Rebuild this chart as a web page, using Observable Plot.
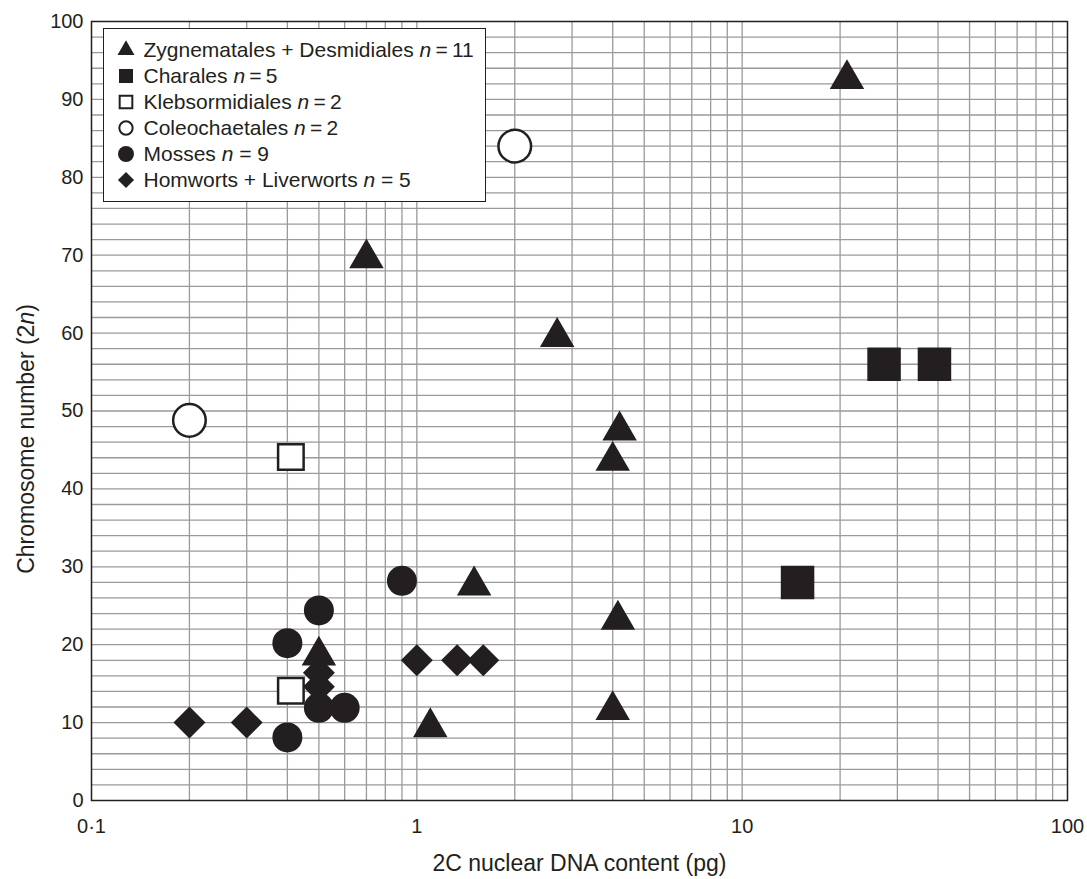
<!DOCTYPE html>
<html>
<head>
<meta charset="utf-8">
<script src="https://cdn.jsdelivr.net/npm/d3@7"></script>
<script src="https://cdn.jsdelivr.net/npm/@observablehq/plot@0.6"></script>
<style>
  html, body { margin: 0; padding: 0; background: #fff; }
  #wrap { position: relative; width: 1087px; height: 879px; font-family: "Liberation Sans", Arial, Helvetica, sans-serif; color: #231f20; }
  #legend { position: absolute; left: 103px; top: 28px; width: 383px; height: 174px; box-sizing: border-box;
            border: 1.5px solid #231f20; background: #fff; padding-top: 7.5px; }
  .row { height: 26px; display: flex; align-items: center; font-size: 21px; white-space: nowrap; }
  .row svg { margin-left: 11.5px; margin-right: 8px; flex: none; }
</style>
</head>
<body>
<div id="wrap">
  <div id="chart"></div>
  <div id="legend"></div>
</div>
<script>
// ---- Data ----
const zygX = [21, 0.7, 2.7, 4.2, 4.0, 1.5, 4.15, 0.5, 4.0, 1.1];
const zygY = [92.6, 69.6, 59.5, 47.5, 43.6, 27.6, 23.2, 18.6, 11.6, 9.4];
const charX = [27.3, 39, 14.8];
const charY = [56, 56, 28];
const klebX = [0.41, 0.41];
const klebY = [44.1, 14.1];
const coleoX = [2.0, 0.2];
const coleoY = [84, 48.8];
const mossX = [0.4, 0.4, 0.5, 0.5, 0.6, 0.9];
const mossY = [8.1, 20.2, 24.4, 11.9, 11.9, 28.2];
const hornX = [0.2, 0.3, 1.0, 1.33, 1.6, 0.5, 0.5];
const hornY = [10, 10, 18, 18, 18, 16.4, 14.6];

const xTicks = [0.1, 1, 10, 100];
const xTickLabels = ["0·1", "1", "10", "100"];
const yTicks = [0, 10, 20, 30, 40, 50, 60, 70, 80, 90, 100];
const xGrid = [0.2,0.3,0.4,0.5,0.6,0.7,0.8,0.9,1,2,3,4,5,6,7,8,9,10,20,30,40,50,60,70,80,90];
const yGrid = d3.range(2, 100, 2);

const legendLabels = [
  ["Zygnematales + Desmidiales ", "n", "\u2009=\u200911"],
  ["Charales ", "n", "\u2009=\u20095"],
  ["Klebsormidiales ", "n", "\u2009=\u20092"],
  ["Coleochaetales ", "n", "\u2009=\u20092"],
  ["Mosses ", "n", " = 9"],
  ["Homworts + Liverworts ", "n", " = 5"]
];

const ink = "#231f20";
const pts = (xs, ys) => xs.map((x, i) => ({x, y: ys[i]}));

const chart = Plot.plot({
  width: 1087,
  height: 879,
  marginLeft: 91,
  marginRight: 20,
  marginTop: 21,
  marginBottom: 79,
  style: {fontFamily: "'Liberation Sans', Arial, Helvetica, sans-serif", color: ink, background: "#fff", overflow: "visible"},
  x: {type: "log", domain: [0.1, 100]},
  y: {domain: [0, 100]},
  marks: [
    Plot.gridX({ticks: xGrid, stroke: "#9a9a9a", strokeOpacity: 1, strokeWidth: 1.3}),
    Plot.gridY({ticks: yGrid, stroke: "#9a9a9a", strokeOpacity: 1, strokeWidth: 1.3}),
    Plot.frame({stroke: ink, strokeWidth: 1.5}),
    Plot.axisX({ticks: xTicks, tickSize: 0, tickPadding: 18, fontSize: 20,
      tickFormat: d => xTickLabels[xTicks.indexOf(d)], label: null}),
    Plot.axisY({ticks: yTicks, tickSize: 0, tickPadding: 8, fontSize: 20, label: null}),
    Plot.text(["2C nuclear DNA content (pg)"], {frameAnchor: "bottom", text: d => d, dy: 63, fontSize: 23, fill: ink, textAnchor: "middle", lineAnchor: "middle"}),
    Plot.text(["Chromosome number (2n)"], {frameAnchor: "left", text: d => d, rotate: -90, dx: -65, dy: 28, fontSize: 23, fill: ink, textAnchor: "middle", lineAnchor: "middle"}),
    // Hornworts + Liverworts (diamonds)
    Plot.dot(pts(hornX, hornY), {x: "x", y: "y", symbol: "diamond2", r: 14.4, fill: ink, stroke: "none"}),
    // Klebsormidiales (open squares)
    Plot.dot(pts(klebX, klebY), {x: "x", y: "y", symbol: "square", r: 14.4, fill: "#fff", stroke: ink, strokeWidth: 2.5}),
    // Coleochaetales (open circles)
    Plot.dot(pts(coleoX, coleoY), {x: "x", y: "y", symbol: "circle", r: 16.3, fill: "#fff", stroke: ink, strokeWidth: 2.5}),
    // Mosses (filled circles)
    Plot.dot(pts(mossX, mossY), {x: "x", y: "y", symbol: "circle", r: 15, fill: ink, stroke: "none"}),
    // Charales (filled squares)
    Plot.dot(pts(charX, charY), {x: "x", y: "y", symbol: "square", r: 18.9, fill: ink, stroke: "none"}),
    // Zygnematales + Desmidiales (triangles)
    Plot.dot(pts(zygX, zygY), {x: "x", y: "y", symbol: "triangle", r: 12.8, fill: ink, stroke: "none"})
  ]
});
document.getElementById("chart").appendChild(chart);

// italic n in y title
chart.querySelectorAll("text").forEach(t => {
  if (t.textContent === "Chromosome number (2n)") {
    t.innerHTML = 'Chromosome number (2<tspan font-style="italic">n</tspan>)';
  }
});

// legend
const legendSymbols = [
  {type: d3.symbolTriangle, size: 125, fill: ink, stroke: "none"},
  {type: d3.symbolSquare, size: 196, fill: ink, stroke: "none"},
  {type: d3.symbolSquare, size: 160, fill: "#fff", stroke: ink},
  {type: d3.symbolCircle, size: 140, fill: "#fff", stroke: ink},
  {type: d3.symbolCircle, size: 200, fill: ink, stroke: "none"},
  {type: d3.symbolDiamond2, size: 165, fill: ink, stroke: "none"}
];
const legend = d3.select("#legend");
legendLabels.forEach((lab, i) => {
  const s = legendSymbols[i];
  const row = legend.append("div").attr("class", "row");
  const svg = row.append("svg").attr("width", 20).attr("height", 20).attr("viewBox", "-10 -10 20 20");
  svg.append("path").attr("d", d3.symbol(s.type, s.size)())
    .attr("fill", s.fill).attr("stroke", s.stroke).attr("stroke-width", 2);
  const span = row.append("span");
  span.append("span").text(lab[0]);
  span.append("i").text(lab[1]);
  span.append("span").text(lab[2]);
});
</script>
</body>
</html>
